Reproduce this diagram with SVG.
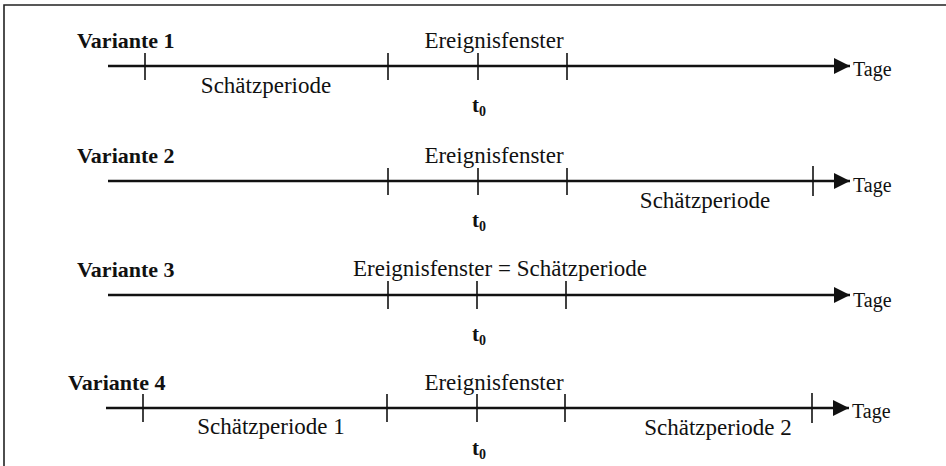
<svg xmlns="http://www.w3.org/2000/svg" width="946" height="466" viewBox="0 0 946 466" font-family="'Liberation Serif', 'DejaVu Serif', serif">
<style>
text{font-family:'Liberation Serif','DejaVu Serif',serif;fill:#111}
.lbl{font-size:23px}
.var{font-size:22px;font-weight:bold}
.tage{font-size:20px}
.t0{font-size:21px;font-weight:bold}
.sub{font-size:14px;font-weight:bold}
.axis{stroke:#111;stroke-width:2.6;fill:none}
.tick{stroke:#111;stroke-width:1.6}
.frame{stroke:#222;stroke-width:1.6;fill:none}
</style>
<defs>
<marker id="arr" markerWidth="17" markerHeight="17" refX="16" refY="8" orient="auto" markerUnits="userSpaceOnUse">
<path d="M0,0 L16,8 L0,16 Z" fill="#111"/>
</marker>
</defs>
<rect width="946" height="466" fill="#fff"/>
<path class="frame" d="M4,466 L4,5 L946,5"/>
<g id="connectors">
<line class="axis" x1="108" y1="66" x2="850" y2="66" marker-end="url(#arr)"/>
<line class="axis" x1="108" y1="181" x2="850" y2="181" marker-end="url(#arr)"/>
<line class="axis" x1="108" y1="295" x2="850" y2="295" marker-end="url(#arr)"/>
<line class="axis" x1="106" y1="408" x2="849" y2="408" marker-end="url(#arr)"/>
</g>
<g id="variante1">
<text class="var" x="77" y="48">Variante 1</text>
<text class="lbl" x="494" y="48" text-anchor="middle">Ereignisfenster</text>
<line class="tick" x1="145" y1="53" x2="145" y2="80"/>
<line class="tick" x1="388" y1="53" x2="388" y2="80"/>
<line class="tick" x1="478" y1="53" x2="478" y2="80"/>
<line class="tick" x1="567" y1="53" x2="567" y2="80"/>
<text class="lbl" x="266" y="93" text-anchor="middle">Schätzperiode</text>
<text class="t0" x="472" y="112">t<tspan class="sub" dy="4">0</tspan></text>
<text class="tage" x="853" y="76">Tage</text>
</g>
<g id="variante2">
<text class="var" x="77" y="163">Variante 2</text>
<text class="lbl" x="494" y="163" text-anchor="middle">Ereignisfenster</text>
<line class="tick" x1="388" y1="168" x2="388" y2="195"/>
<line class="tick" x1="478" y1="168" x2="478" y2="195"/>
<line class="tick" x1="567" y1="168" x2="567" y2="195"/>
<line class="tick" x1="813" y1="166" x2="813" y2="196"/>
<text class="lbl" x="705" y="208" text-anchor="middle">Schätzperiode</text>
<text class="t0" x="472" y="227">t<tspan class="sub" dy="4">0</tspan></text>
<text class="tage" x="853" y="192">Tage</text>
</g>
<g id="variante3">
<text class="var" x="77" y="277">Variante 3</text>
<text class="lbl" x="500" y="276" text-anchor="middle">Ereignisfenster = Schätzperiode</text>
<line class="tick" x1="388" y1="281" x2="388" y2="309"/>
<line class="tick" x1="477" y1="281" x2="477" y2="309"/>
<line class="tick" x1="566" y1="281" x2="566" y2="309"/>
<text class="t0" x="472" y="341">t<tspan class="sub" dy="4">0</tspan></text>
<text class="tage" x="853" y="307">Tage</text>
</g>
<g id="variante4">
<text class="var" x="68" y="390">Variante 4</text>
<text class="lbl" x="494" y="390" text-anchor="middle">Ereignisfenster</text>
<line class="tick" x1="143" y1="394" x2="143" y2="422"/>
<line class="tick" x1="387" y1="394" x2="387" y2="422"/>
<line class="tick" x1="477" y1="394" x2="477" y2="422"/>
<line class="tick" x1="565" y1="394" x2="565" y2="422"/>
<line class="tick" x1="812" y1="393" x2="812" y2="423"/>
<text class="lbl" x="271" y="434" text-anchor="middle">Schätzperiode 1</text>
<text class="lbl" x="718" y="435" text-anchor="middle">Schätzperiode 2</text>
<text class="t0" x="472" y="455">t<tspan class="sub" dy="4">0</tspan></text>
<text class="tage" x="852" y="418">Tage</text>
</g>
</svg>
